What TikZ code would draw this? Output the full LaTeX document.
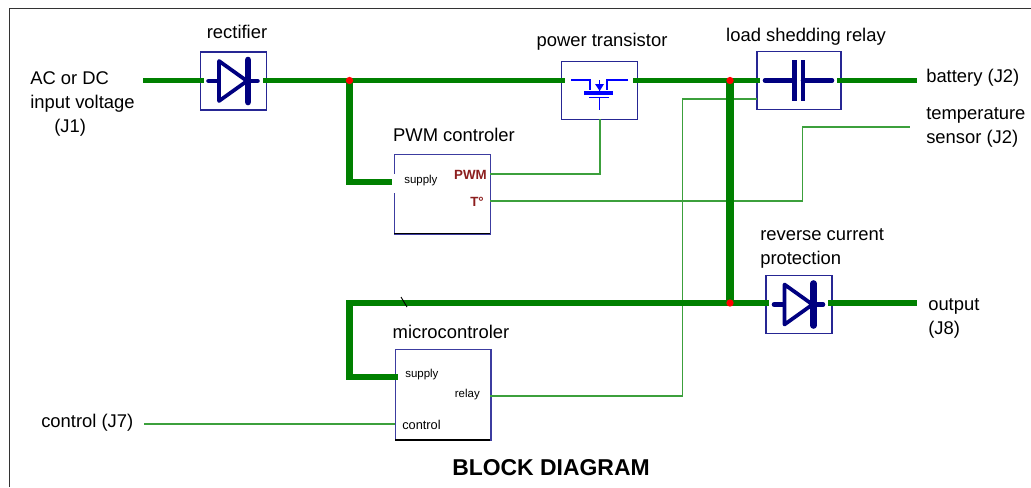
\documentclass[tikz,border=0pt]{standalone}
\usepackage{fontspec}
\setmainfont{Liberation Sans}
\usetikzlibrary{calc}
\definecolor{wiregreen}{RGB}{0,128,0}
\definecolor{thinwire}{RGB}{60,160,60}
\definecolor{boxblue}{RGB}{60,60,160}
\definecolor{partblue}{RGB}{0,0,128}
\definecolor{fetblue}{RGB}{0,0,255}
\definecolor{pinred}{RGB}{140,30,30}
\tikzset{
  power/.style={draw=wiregreen, line width=4.2pt},
  branch/.style={draw=wiregreen, line width=5.2pt},
  signal/.style={draw=thinwire, line width=0.8pt},
  part/.style={draw=partblue!85!white, line width=0.9pt, fill=white, minimum width=50pt, minimum height=43.5pt, inner sep=0pt},
  block/.style={draw=boxblue, line width=1pt, fill=white, anchor=north west, minimum width=72pt, minimum height=59pt, inner sep=0pt},
  caption/.style={font=\fontsize{13.8}{18}\selectfont, align=left, inner sep=0pt},
  pin/.style={font=\fontsize{8.6}{10}\selectfont, inner sep=0pt},
  redpin/.style={font=\fontsize{10}{11}\selectfont\bfseries, text=pinred, inner sep=0pt},
  symbol/.style={draw=partblue, line width=3.4pt, line cap=round},
  dot/.style={circle, fill=red, inner sep=0pt, minimum size=5.5pt}
}
% a diode drawn inside a part
\newcommand{\diodesym}[1]{
  \draw[symbol] ($(#1)+(-25,0)$) -- ($(#1)+(24,0)$);
  \draw[symbol, line join=round, fill=white, line width=2.8pt] ($(#1)+(-14.5,-20)$) -- ($(#1)+(13.5,0)$) -- ($(#1)+(-14.5,20)$) -- cycle;
  \draw[symbol, line width=5pt] ($(#1)+(14.5,-21)$) -- ($(#1)+(14.5,21)$);
}
\begin{document}
\begin{tikzpicture}[x=0.75pt, y=-0.75pt]
  \useasboundingbox (0,0) rectangle (1031,487);
  \draw[black!80, line width=1.1pt] (9.5,487) -- (9.5,8.5) -- (1031,8.5);

  % parts
  \node[part] (rectifier) at (233.5,81) {};
  \node[part, minimum width=57.5pt, minimum height=43pt] (transistor) at (599.5,90.5) {};
  \node[part, minimum width=63pt, minimum height=43pt] (relay) at (799,80.5) {};
  \node[part, minimum width=49.5pt, minimum height=43pt] (protection) at (799,304.5) {};
  \node[block, minimum height=59.5pt] (pwm) at (394,154) {};
  \node[block, minimum width=71.5pt, minimum height=68pt] (micro) at (395,349) {};
  \draw[black, line width=1pt] (394,233.5) -- (490,233.5);
  \draw[black, line width=1pt] (395,440) -- (490,440);
  \draw[white, line width=1.6pt] (394,174) -- (394,193);

  % free ends
  \coordinate (acin) at (143,80.5);
  \coordinate (rectin) at (204,80.5);
  \coordinate (rectout) at (263,80.5);
  \coordinate (transin) at (565,80.5);
  \coordinate (transout) at (633,80.5);
  \coordinate (relayin) at (760,80.5);
  \coordinate (relayout) at (837,80.5);
  \coordinate (battery) at (917,80.5);
  \coordinate (j1) at (349.5,80.5);
  \coordinate (j2) at (730,80.5);
  \coordinate (j3) at (730,303);
  \coordinate (protin) at (769,303);
  \coordinate (protout) at (828,303);
  \coordinate (output) at (917,303);
  \coordinate (pwmsup) at (392,182);
  \coordinate (microsup) at (398,377);
  \coordinate (gate) at (600,119);
  \coordinate (pwmpin) at (490,174);
  \coordinate (tpin) at (490,201);
  \coordinate (relaypin) at (490,396);
  \coordinate (coil) at (757,99);
  \coordinate (temp) at (910,127);
  \coordinate (ctrl) at (144,424);
  \coordinate (ctrlpin) at (395,424);

  % thin wires
  \draw[signal] (gate) -- (600,174) -- (pwmpin);
  \draw[signal] (tpin) -- (802.5,201) -- (802.5,127) -- (temp);
  \draw[signal] (relaypin) -- (682.5,396) -- (682.5,99) -- (coil);
  \draw[signal] (ctrl) -- (ctrlpin);

  % thick wires
  \draw[power] (acin) -- (rectin);
  \draw[power] (rectout) -- (transin);
  \draw[power] (transout) -- (relayin);
  \draw[power] (relayout) -- (battery);
  \draw[branch, line width=6pt] (j2) -- (j3);
  \draw[branch] (j1) -- (349.5,182) -- (pwmsup);
  \draw[power] (j3) -- (349.5,303);
  \draw[branch] (349.5,300.2) -- (349.5,377) -- (microsup);
  \draw[power] (j3) -- (protin);
  \draw[power] (protout) -- (output);
  \draw[black, line width=0.7pt] (401,297) -- (407,307);

  \node[dot] (dotA) at (j1) {};
  \node[dot] (dotB) at (j2) {};
  \node[dot] (dotC) at (j3) {};

  % symbols
  \diodesym{rectifier}
  \diodesym{protection}
  \draw[symbol] (765,80.5) -- (794,80.5);
  \draw[symbol] (803,80.5) -- (832,80.5);
  \draw[symbol, line cap=butt, line width=3.2pt] (794.5,60) -- (794.5,101);
  \draw[symbol, line cap=butt, line width=3.2pt] (803,60) -- (803,101);
  % transistor
  \draw[fetblue, line width=0.9pt] (571,80) -- (590,80) -- (590,90);
  \draw[fetblue, line width=0.9pt] (628,80) -- (607,80) -- (607,90);
  \draw[fetblue, line width=3pt] (584,93) -- (613,93);
  \draw[fetblue, line width=0.9pt] (589,97.5) -- (609,97.5);
  \draw[fetblue, line width=0.9pt] (599.7,97.5) -- (599.7,110);
  \draw[fetblue, line width=0.9pt] (599.7,80) -- (599.7,92);
  \fill[fetblue] (595,84) -- (604,84) -- (599.7,91) -- cycle;

  % texts
  \node[caption, anchor=west] (lblin) at (30,104) {AC or DC\\input voltage\\\hspace*{18pt}(J1)};
  \node[caption, anchor=base] (lblrect) at (237,38) {rectifier};
  \node[caption, anchor=base] (lbltrans) at (602,46) {power transistor};
  \node[caption, anchor=base] (lblrelay) at (806,41) {load shedding relay};
  \node[caption, anchor=base] (lblpwm) at (454,141) {PWM controler};
  \node[caption, anchor=base] (lblmicro) at (451,338) {microcontroler};
  \node[caption, anchor=west] (lblprot) at (760,248) {reverse current\\protection};
  \node[caption, anchor=west] (lblbatt) at (926,78) {battery (J2)};
  \node[caption, anchor=west] (lbltemp) at (926,127) {temperature\\sensor (J2)};
  \node[caption, anchor=west] (lblout) at (928,318) {output\\(J8)};
  \node[caption, anchor=west] (lblctrl) at (41,423) {control (J7)};
  \node[pin, anchor=west] (supA) at (404,181) {supply};
  \node[pin, anchor=west] (supB) at (405,375) {supply};
  \node[redpin, anchor=east] (pinpwm) at (487,175) {PWM};
  \node[redpin, anchor=east] (pint) at (484,202) {T°};
  \node[pin, anchor=east] (pinrel) at (480,395) {relay};
  \node[pin, anchor=west, font=\fontsize{9.6}{10}\selectfont] (pinctl) at (402,425) {control};
  \node[anchor=base, inner sep=0pt, font=\fontsize{17.2}{20}\selectfont\bfseries] (title) at (551,475) {BLOCK DIAGRAM};
\end{tikzpicture}
\end{document}
